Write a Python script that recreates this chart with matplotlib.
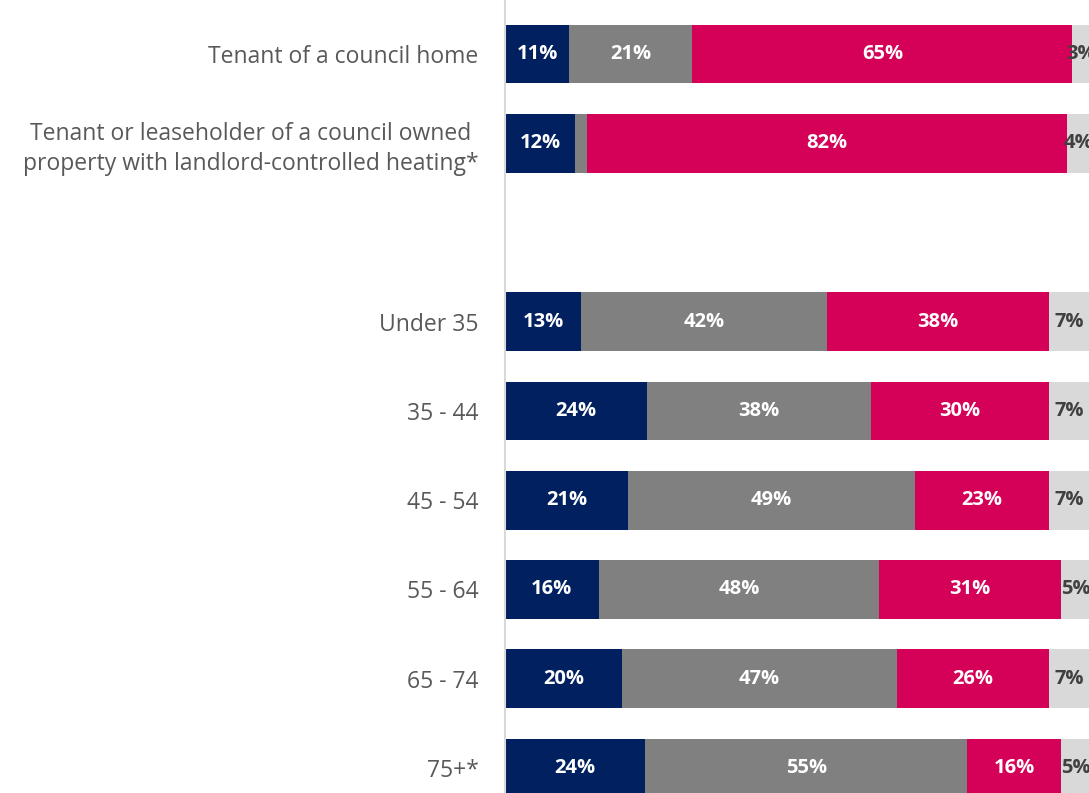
import matplotlib
matplotlib.use("Agg")
import matplotlib.pyplot as plt

categories = [
    "Tenant of a council home",
    "Tenant or leaseholder of a council owned\nproperty with landlord-controlled heating*",
    "Under 35",
    "35 - 44",
    "45 - 54",
    "55 - 64",
    "65 - 74",
    "75+*",
]
navy_vals = [11, 12, 13, 24, 21, 16, 20, 24]
grey_vals = [21, 2, 42, 38, 49, 48, 47, 55]
pink_vals = [65, 82, 38, 30, 23, 31, 26, 16]
light_vals = [3, 4, 7, 7, 7, 5, 7, 5]

series = [
    (navy_vals, "#002060", "white"),
    (grey_vals, "#808080", "white"),
    (pink_vals, "#d50057", "white"),
    (light_vals, "#d9d9d9", "#404040"),
]

# leave an empty row between the tenure group and the age group
ypos = [i if i < 2 else i + 1 for i in range(len(categories))]

# 100% stacked: scale each row by its own total
totals = [sum(row) for row in zip(navy_vals, grey_vals, pink_vals, light_vals)]

plt.rcParams["font.family"] = ["Open Sans", "DejaVu Sans"]

fig = plt.figure(figsize=(10.89, 7.93), dpi=100)
ax = fig.add_axes([505 / 1089, 0, 585 / 1089, 1])

left = [0] * len(categories)
for vals, color, txt_color in series:
    widths = [v * 100 / t for v, t in zip(vals, totals)]
    bars = ax.barh(ypos, widths, left=left, height=0.66, color=color, edgecolor="none")
    for bar, v in zip(bars, vals):
        if v >= 3:
            ax.text(bar.get_x() + bar.get_width() / 2, bar.get_y() + bar.get_height() / 2,
                    f"{v}%", ha="center", va="center", color=txt_color,
                    fontsize=14.5, fontweight="bold")
    left = [a + b for a, b in zip(left, widths)]

ax.set_xlim(0, 100)
ax.set_ylim(8 + 25 / 89.25, -54 / 89.25)
ax.set_yticks(ypos)
ax.set_yticklabels(categories, fontsize=16.5, color="#595959",
                   multialignment="center", linespacing=1.3)
ax.tick_params(axis="y", length=0, pad=19)
ax.set_xticks([])
for side in ["top", "right", "bottom"]:
    ax.spines[side].set_visible(False)
ax.spines["left"].set_color("#d9d9d9")
ax.spines["left"].set_linewidth(1.5)

fig.savefig("out.png", dpi=100)
